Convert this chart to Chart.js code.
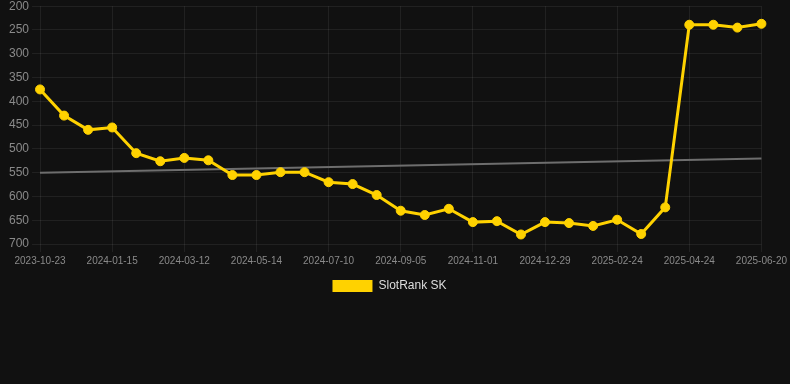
<!DOCTYPE html>
<html>
<head>
<meta charset="utf-8">
<script src="https://cdn.jsdelivr.net/npm/chart.js@4/dist/chart.umd.min.js"></script>
<style>
html,body{margin:0;padding:0;background:#111111;overflow:hidden;}
#wrap{width:790px;height:306px;position:relative;margin-top:-4px;}
</style>
</head>
<body>
<div id="wrap"><canvas id="c"></canvas></div>
<script>
const dates = ["2023-10-23","2023-11-20","2023-12-18","2024-01-15","2024-02-01","2024-02-18","2024-03-12","2024-03-30","2024-04-20","2024-05-14","2024-05-28","2024-06-12","2024-07-10","2024-07-25","2024-08-12","2024-09-05","2024-09-20","2024-10-10","2024-11-01","2024-11-20","2024-12-08","2024-12-29","2025-01-15","2025-02-02","2025-02-24","2025-03-12","2025-03-30","2025-04-24","2025-05-10","2025-05-30","2025-06-20"];
const rankValues = [375,430,460,455,509,526,519,524,555,555,549,549,570,574,597,630,639,626,654,652,680,654,656,662,649,679,623,239,239,245,237];
const trendStart = 550;
const trendEnd = 520;
const yTicks = [200,250,300,350,400,450,500,550,600,650,700];
const labelEvery = 3;

const trendValues = dates.map((d,i)=> i===0 ? trendStart : (i===dates.length-1 ? trendEnd : null));

new Chart(document.getElementById('c'), {
  type: 'line',
  data: {
    labels: dates,
    datasets: [
      {
        label: 'SlotRank SK',
        data: rankValues,
        borderColor: '#FFD200',
        backgroundColor: '#FFD200',
        borderWidth: 3,
        pointRadius: 4.5,
        pointHoverRadius: 4.5,
        pointBorderWidth: 1,
        pointBackgroundColor: '#FFD200',
        pointBorderColor: '#FFD200',
        tension: 0,
        order: 1
      },
      {
        label: 'trend',
        data: trendValues,
        spanGaps: true,
        borderColor: '#6e6e6e',
        backgroundColor: '#6e6e6e',
        borderWidth: 2,
        pointRadius: 0,
        tension: 0,
        order: 2
      }
    ]
  },
  options: {
    responsive: true,
    maintainAspectRatio: false,
    animation: false,
    layout: { padding: { top: 0, right: 17, left: 6, bottom: 0 } },
    plugins: {
      legend: {
        position: 'bottom',
        labels: {
          color: '#dddddd',
          font: { family: 'Liberation Sans, Arial, sans-serif', size: 12 },
          boxWidth: 40,
          boxHeight: 12,
          generateLabels: (chart) => Chart.defaults.plugins.legend.labels.generateLabels(chart)
            .filter(it => it.text !== 'trend')
            .map(it => Object.assign(it, { lineWidth: 0 }))
        }
      },
      tooltip: { enabled: false }
    },
    scales: {
      x: {
        grid: { color: 'rgba(255,255,255,0.07)', tickLength: 8 },
        border: { display: false },
        ticks: {
          color: '#8a8a8a',
          font: { family: 'Liberation Sans, Arial, sans-serif', size: 10 },
          autoSkip: false,
          maxRotation: 0,
          minRotation: 0,
          callback: function(v, i){ return i % labelEvery === 0 ? this.getLabelForValue(v) : null; }
        }
      },
      y: {
        reverse: true,
        min: yTicks[0],
        max: yTicks[yTicks.length-1],
        afterBuildTicks: (axis) => { axis.ticks = yTicks.map(v => ({value: v})); },
        grid: { color: 'rgba(255,255,255,0.07)', tickLength: 8 },
        border: { display: false },
        ticks: {
          color: '#8a8a8a',
          font: { family: 'Liberation Sans, Arial, sans-serif', size: 12 },
          padding: 3
        }
      }
    }
  }
});
</script>
</body>
</html>
